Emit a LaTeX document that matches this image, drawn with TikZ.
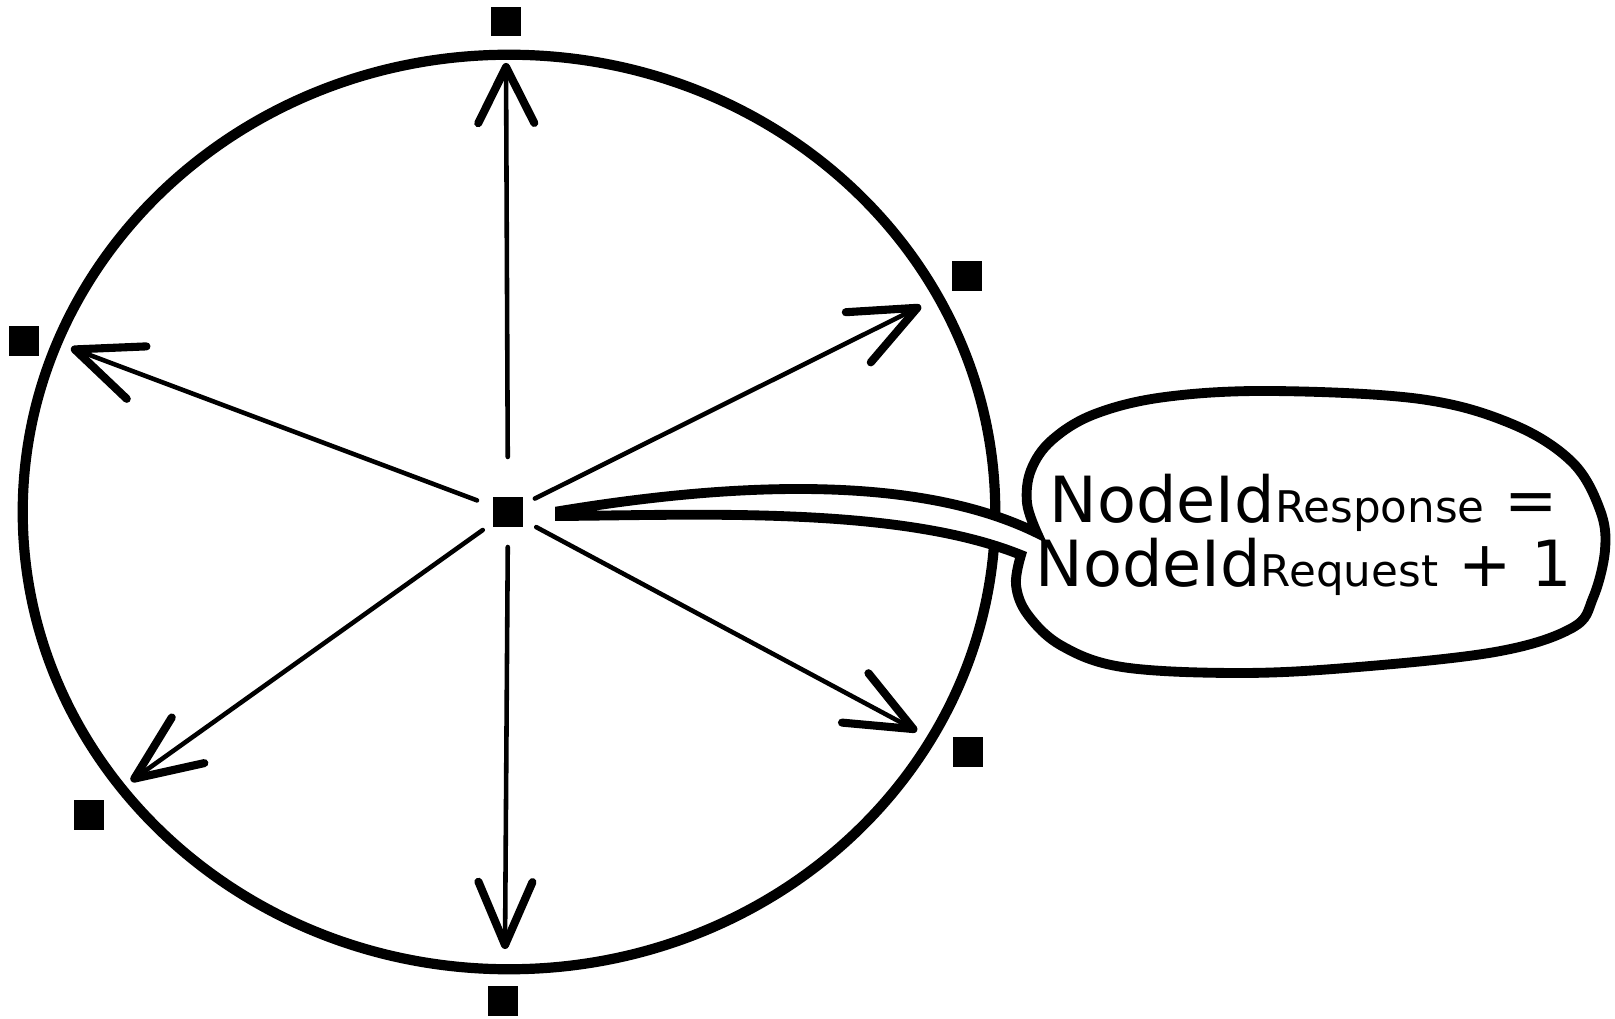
\documentclass[tikz,border=0pt]{standalone}
\usepackage{fontspec}
\setmainfont{DejaVu Sans}
\usetikzlibrary{arrows.meta}

\newcommand\eqbig{\fontsize{18.1pt}{22pt}\selectfont}
\newcommand\eqsmall{\fontsize{12.4pt}{14pt}\selectfont}

\begin{document}
\begin{tikzpicture}[x=0.01cm, y=-0.01cm,
  peer/.style={fill=black, inner sep=0pt, minimum width=0.3cm, minimum height=0.29cm},
  ring/.style={line width=2.9pt},
  ray/.style={line width=1.3pt, line cap=round,
    -{Straight Barb[length=0.66cm, width=0.56cm, line width=2.3pt, round]}},
  bubble/.style={line width=2.8pt, fill=white},
  eqline/.style={anchor=base, inner sep=0pt, font=\eqbig}
]
\useasboundingbox (0,0) rectangle (1615,1019);

% broadcast range
\draw[ring] (509,512) ellipse [x radius=4.86cm, y radius=4.57cm];

% sender and its neighbours
\node[peer] (hub) at (508,512) {};
\node[peer] (pN)  at (506,22)  {};
\node[peer] (pNE) at (967,276) {};
\node[peer] (pW)  at (24,341)  {};
\node[peer] (pSE) at (968,752) {};
\node[peer] (pSW) at (89,815)  {};
\node[peer] (pS)  at (503,1001) {};

% where each ray meets the range boundary
\coordinate (tN)  at (506,63);
\coordinate (tNE) at (921,306);
\coordinate (tW)  at (71,348);
\coordinate (tSE) at (917,731);
\coordinate (tSW) at (131,781);
\coordinate (tS)  at (505,949);

\draw[ray, shorten <=0.55cm,
  -{Straight Barb[length=0.56cm, width=0.56cm, line width=2.3pt, round]}] (hub.center) -- (tN);
\draw[ray, shorten <=0.30cm] (hub.center) -- (tNE);
\draw[ray, shorten <=0.33cm] (hub.center) -- (tW);
\draw[ray, shorten <=0.32cm] (hub.center) -- (tSE);
\draw[ray, shorten <=0.31cm] (hub.center) -- (tSW);
\draw[ray, shorten <=0.35cm,
  -{Straight Barb[length=0.63cm, width=0.54cm, line width=2.3pt, round]}] (hub.center) -- (tS);

% speech bubble with its tail
\draw[bubble] (560,511) .. controls (700,488) and (905,468) .. (1037,533)
  -- plot[smooth, tension=0.6] coordinates {
    (1037,533) (1027,503) (1031,470) (1052,440) (1095,414) (1165,397)
    (1271,391) (1420,399) (1512,424) (1572,462) (1600,510) (1605,550)
    (1593,598) (1572,628) (1495,652) (1346,668) (1234,673) (1122,667)
    (1062,646) (1028,615) (1016,585) (1021,555)}
  .. controls (900,506) and (700,515) .. (560,516) -- cycle;

\node[eqline] (lhs) at (1304,523) {NodeId{\eqsmall Response} =};
\node[eqline] (rhs) at (1304,587) {NodeId{\eqsmall Request} + 1};
\end{tikzpicture}
\end{document}
